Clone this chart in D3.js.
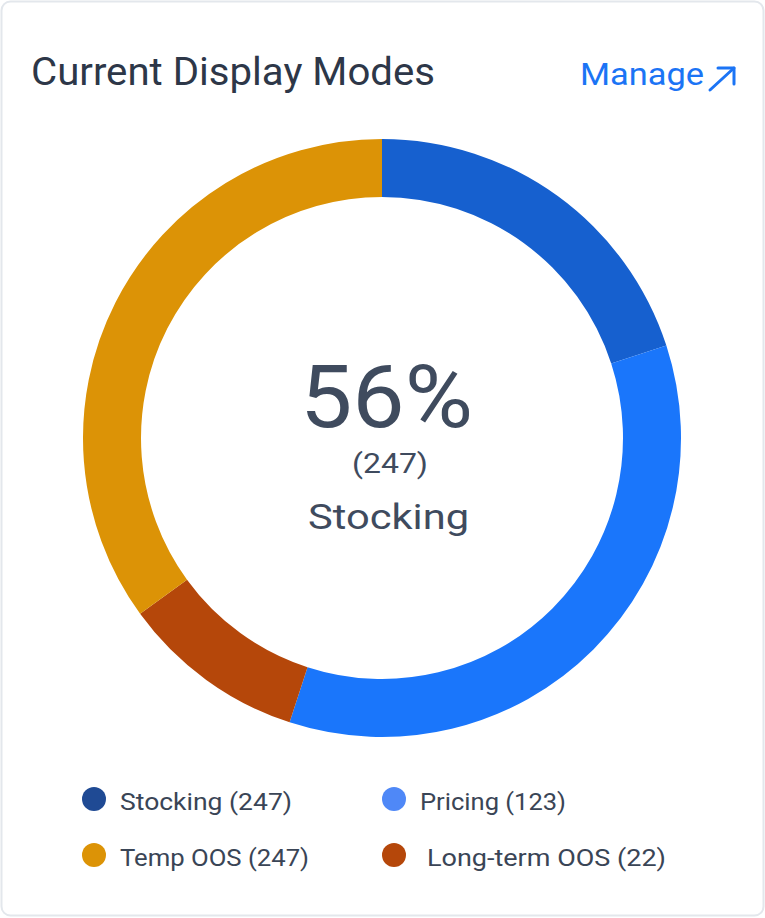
<!DOCTYPE html>
<html>
<head>
<meta charset="utf-8">
<script src="https://cdn.jsdelivr.net/npm/d3@7"></script>
<style>
  html, body { margin: 0; padding: 0; background: #ffffff; }
  svg { display: block; }
</style>
</head>
<body>
<svg id="chart" width="765" height="918"></svg>
<script>
// ---- data ----
const sliceNames = ["Stocking", "Pricing", "Long-term OOS", "Temp OOS"];
const sliceShares = [20, 35, 10, 35];           // arc sizes read from the ring
const sliceColors = ["#1660cf", "#1a76fb", "#b5470a", "#dc9306"];

const legendNames = ["Stocking", "Pricing", "Temp OOS", "Long-term OOS"];
const legendCounts = [247, 123, 247, 22];
const legendColors = ["#1f4a94", "#4f88f7", "#dc9306", "#b5470a"];

const centerPercent = "56%";
const centerCount = "(247)";
const centerLabel = "Stocking";
const titleText = "Current Display Modes";
const linkText = "Manage";

// ---- drawing ----
const svg = d3.select("#chart");

svg.append("rect")
  .attr("x", 1.5).attr("y", 1.5)
  .attr("width", 762).attr("height", 914)
  .attr("rx", 9)
  .attr("fill", "#ffffff")
  .attr("stroke", "#e3e7ec")
  .attr("stroke-width", 2);

svg.append("text")
  .attr("x", 31).attr("y", 85)
  .attr("font-family", "Roboto, sans-serif")
  .attr("font-size", 38)
  .attr("fill", "#2d3748")
  .attr("textLength", 404)
  .attr("lengthAdjust", "spacingAndGlyphs")
  .text(titleText);

svg.append("text")
  .attr("x", 580).attr("y", 85)
  .attr("font-family", "Roboto, sans-serif")
  .attr("font-size", 32)
  .attr("fill", "#1b74f5")
  .attr("textLength", 124)
  .attr("lengthAdjust", "spacingAndGlyphs")
  .text(linkText);

const arrow = svg.append("g")
  .attr("stroke", "#1b74f5")
  .attr("stroke-width", 3)
  .attr("fill", "none")
  .attr("stroke-linecap", "round")
  .attr("stroke-linejoin", "round");
arrow.append("line").attr("x1", 710).attr("y1", 90).attr("x2", 734).attr("y2", 68);
arrow.append("polyline").attr("points", "718,68 734,68 734,84");

// donut
const cx = 382, cy = 438;
const outerR = 299, innerR = 241;
const pie = d3.pie().sort(null).value(d => d.v);
const arcs = pie(sliceNames.map((n, i) => ({ n, v: sliceShares[i], c: sliceColors[i] })));
const arcGen = d3.arc().innerRadius(innerR).outerRadius(outerR);

svg.append("g")
  .attr("transform", `translate(${cx},${cy})`)
  .selectAll("path")
  .data(arcs)
  .join("path")
  .attr("d", arcGen)
  .attr("fill", d => d.data.c);

// center texts
const center = svg.append("g").attr("font-family", "Roboto, sans-serif").attr("fill", "#3f4b5e").attr("text-anchor", "middle");
center.append("text").attr("x", 386.5).attr("y", 427).attr("font-size", 87)
  .attr("textLength", 173).attr("lengthAdjust", "spacingAndGlyphs").text(centerPercent);
center.append("text").attr("x", 390).attr("y", 473).attr("font-size", 27)
  .attr("textLength", 76).attr("lengthAdjust", "spacingAndGlyphs").text(centerCount);
center.append("text").attr("x", 388.5).attr("y", 529).attr("font-size", 35)
  .attr("textLength", 161).attr("lengthAdjust", "spacingAndGlyphs").text(centerLabel);

// legend
const legendPos = [
  { x: 94, y: 799, tx: 120, w: 172 },
  { x: 394, y: 799, tx: 420, w: 146 },
  { x: 94, y: 855, tx: 120, w: 189 },
  { x: 394, y: 855, tx: 427, w: 239 }
];
const legend = svg.append("g")
  .selectAll("g")
  .data(legendNames.map((n, i) => ({ n, c: legendCounts[i], col: legendColors[i], p: legendPos[i] })))
  .join("g");
legend.append("circle")
  .attr("cx", d => d.p.x).attr("cy", d => d.p.y).attr("r", 12)
  .attr("fill", d => d.col);
legend.append("text")
  .attr("x", d => d.p.tx).attr("y", d => d.p.y + 11)
  .attr("font-family", "Roboto, sans-serif")
  .attr("font-size", 24)
  .attr("fill", "#3a4556")
  .attr("textLength", d => d.p.w)
  .attr("lengthAdjust", "spacingAndGlyphs")
  .text(d => `${d.n} (${d.c})`);
</script>
</body>
</html>
